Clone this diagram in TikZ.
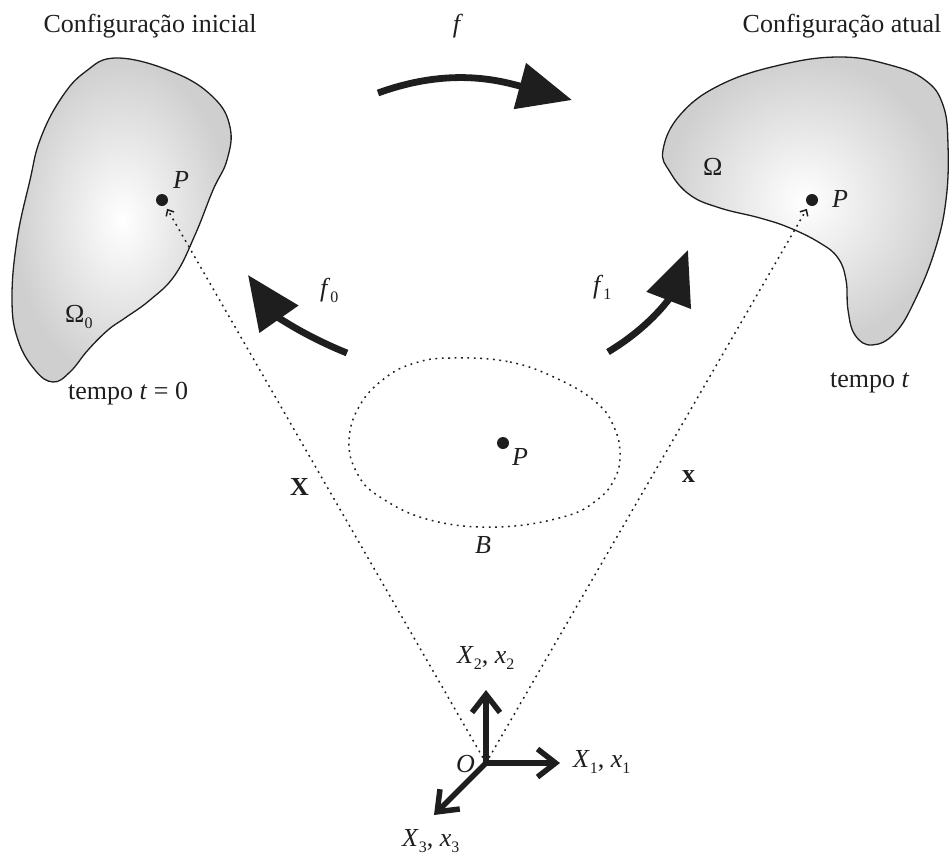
\documentclass[tikz,border=0pt]{standalone}
\usepackage{fontspec}
\setmainfont{Liberation Serif}
\usetikzlibrary{arrows.meta}
\newcommand{\lowsub}[1]{\raisebox{-0.25em}{\fontsize{16}{16}\selectfont #1}}
\definecolor{ink}{HTML}{1E1E1E}
\begin{document}
\begin{tikzpicture}[x=1pt,y=1pt,
  font=\fontsize{26}{30}\selectfont,
  lbl/.style={inner sep=0pt, anchor=base west, text=ink},
  blob/.style={draw=ink, line width=1.3pt, inner color=white, outer color=black!19},
  thickarrow/.style={draw=ink, line width=6.8pt, -{Triangle[length=54pt,width=46pt]}},
  axis/.style={draw=ink, line width=5.5pt, line cap=rect, -{Straight Barb[length=18pt,width=28pt,line width=5.5pt]}},
  dotline/.style={draw=ink, line width=1.5pt, dash pattern=on 1.8pt off 4.4pt, shorten >=4pt, -{Straight Barb[length=5pt,width=9pt,line width=1.5pt]}},
  bdot/.style={circle, fill=ink, inner sep=0pt, minimum size=12pt}]
\useasboundingbox (0,0) rectangle (951,-857);

% bodies
\shadedraw[blob] plot[smooth cycle, tension=0.7] coordinates {(117,-58) (173,-72) (213,-97) (230,-127) (227,-160) (213,-190) (195,-235) (175,-275) (150,-300) (125,-318) (108,-330) (88,-350) (70,-372) (53,-382) (35,-370) (18,-340) (12,-300) (17,-240) (30,-180) (40,-140) (60,-100) (85,-72)};
\shadedraw[blob] plot[smooth cycle, tension=0.7] coordinates {(663,-150) (680,-115) (720,-85) (780,-65) (840,-57) (890,-65) (925,-80) (943,-105) (948,-145) (946,-200) (935,-250) (915,-300) (895,-333) (872,-345) (855,-335) (848,-310) (846,-280) (838,-258) (820,-243) (790,-228) (760,-218) (720,-208) (690,-195) (670,-172)};
\draw[ink, line width=1.5pt, dash pattern=on 1.8pt off 4.6pt] plot[smooth cycle, tension=0.7] coordinates {(451,-358) (510,-362) (560,-380) (597,-403) (614,-427) (620,-453) (615,-478) (597,-500) (563,-517) (497,-527) (430,-520) (380,-497) (357,-473) (349,-440) (360,-405) (385,-378) (415,-363)};

% points
\node[bdot] (P0) at (162,-200) {};
\node[bdot] (P1) at (812,-200) {};
\node[bdot] (Pb) at (503,-443) {};

% origin and axes
\coordinate (O) at (486,-763);
\coordinate (A1) at (560,-763);
\coordinate (A2) at (486,-690);
\coordinate (A3) at (434,-815);
\draw[dotline] (O) -- (P0);
\draw[dotline] (O) -- (P1);
\draw[axis] (O) -- (A1);
\draw[axis] (O) -- (A2);
\draw[axis] (O) -- (A3);

% mapping arrows
\coordinate (fs) at (378,-93);
\coordinate (fe) at (572,-100);
\coordinate (f0s) at (347,-353);
\coordinate (f0e) at (248,-275);
\coordinate (f1s) at (608,-352);
\coordinate (f1e) at (688,-250);
\draw[thickarrow] (fs) to[out=20, in=165] (fe);
\draw[thickarrow] (f0s) to[out=158, in=-55] (f0e);
\draw[thickarrow] (f1s) to[out=31, in=-111] (f1e);

% labels
\node[lbl, anchor=base] (tinit) at (150,-32) {Configuração inicial};
\node[lbl, anchor=base] (tatual) at (842,-32) {Configuração atual};
\node[lbl, anchor=base] (lf) at (458,-32) {\textit{f}};
\node[lbl] (lf0) at (320,-296) {\textit{f}\lowsub{0}};
\node[lbl] (lf1) at (593,-293) {\textit{f}\lowsub{1}};
\node[lbl] (lP0) at (173,-188) {\textit{P}};
\node[lbl] (lOm0) at (65,-322) {Ω\lowsub{0}};
\node[lbl] (lOm) at (703,-175) {Ω};
\node[lbl] (lP1) at (832,-207) {\textit{P}};
\node[lbl] (lPb) at (512,-465) {\textit{P}};
\node[lbl] (lB) at (475,-553) {\textit{B}};
\node[lbl] (lX) at (290,-495) {\textbf{X}};
\node[lbl] (lx) at (682,-482) {\textbf{x}};
\node[lbl] (lX2) at (457,-663) {\textit{X}\lowsub{2}, \textit{x}\lowsub{2}};
\node[lbl] (lO) at (456,-772) {\textit{O}};
\node[lbl] (lX1) at (573,-767) {\textit{X}\lowsub{1}, \textit{x}\lowsub{1}};
\node[lbl] (lX3) at (402,-846) {\textit{X}\lowsub{3}, \textit{x}\lowsub{3}};
\node[lbl] (t0) at (68,-399) {tempo \textit{t} = 0};
\node[lbl] (t1) at (830,-387) {tempo \textit{t}};
\end{tikzpicture}
\end{document}
